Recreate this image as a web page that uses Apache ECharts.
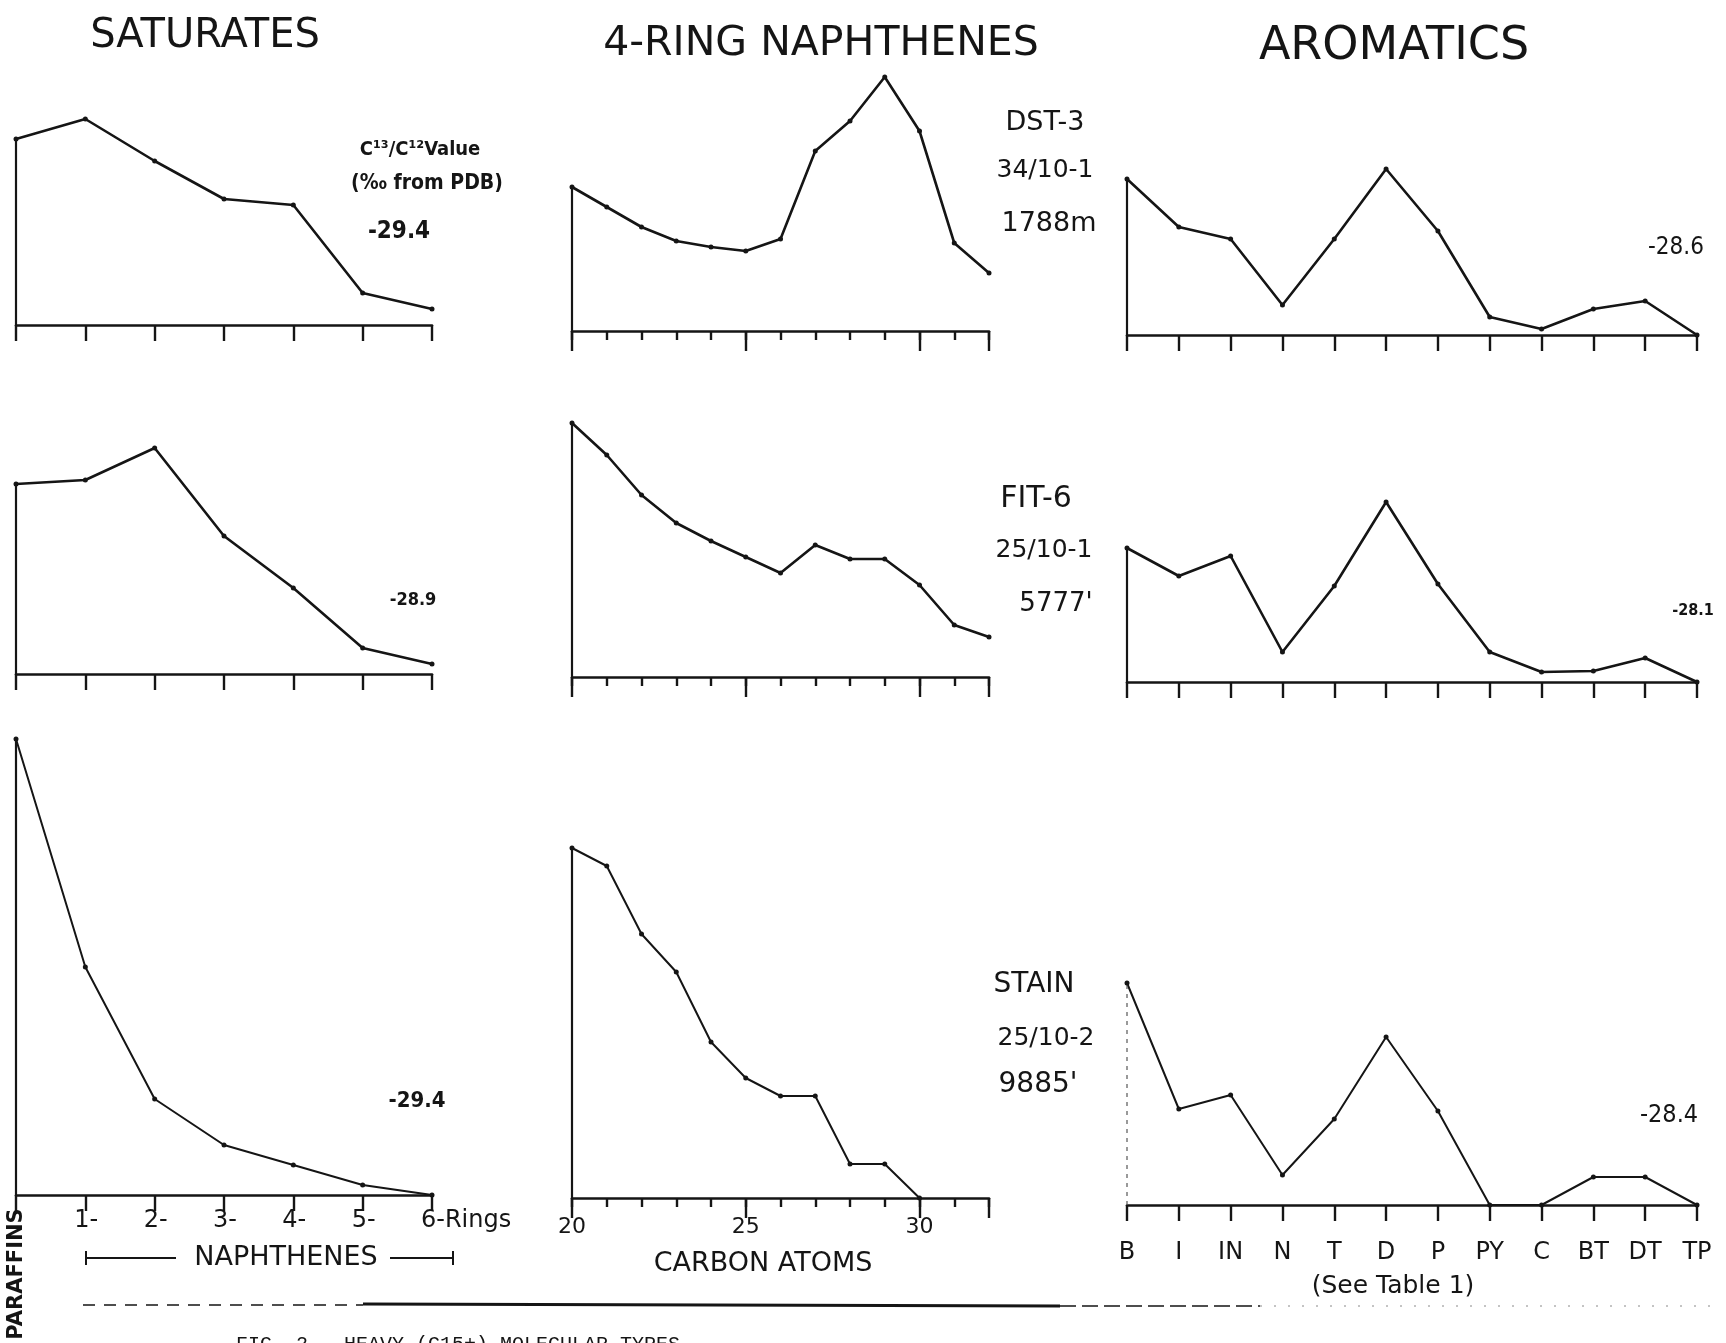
<!DOCTYPE html>
<html>
<head>
<meta charset="utf-8">
<script src="https://cdn.jsdelivr.net/npm/echarts@6/dist/echarts.min.js"></script>
<style>
  html, body { margin: 0; padding: 0; background: #fff; }
  #chart { width: 1726px; height: 1343px; }
</style>
</head>
<body>
<div id="chart"></div>
<script>
// categories on the three x axes
var satCats = ['PARAFFINS', '1-', '2-', '3-', '4-', '5-', '6-Rings'];
var napCats = ['20', '21', '22', '23', '24', '25', '26', '27', '28', '29', '30', '31', '32'];
var aroCats = ['B', 'I', 'IN', 'N', 'T', 'D', 'P', 'PY', 'C', 'BT', 'DT', 'TP'];

// relative amounts (arbitrary units)
// DST-3 34/10-1 1788m
var satDst = [93, 103, 82, 63, 60, 16, 8];
var napDst = [72, 62, 52, 45, 42, 40, 46, 90, 105, 127, 100, 44, 29];
var aroDst = [78, 54, 48, 15, 48, 83, 52, 9, 3, 13, 17, 0];
// FIT-6 25/10-1 5777'
var satFit = [95, 97, 113, 69, 43, 13, 5];
var napFit = [127, 111, 91, 77, 68, 60, 52, 66, 59, 59, 46, 26, 20];
var aroFit = [67, 53, 63, 15, 48, 90, 49, 15, 5, 5.5, 12, 0];
// STAIN 25/10-2 9885'
var satStain = [228, 114, 48, 25, 15, 5, 0];
var napStain = [175, 166, 132, 113, 78, 60, 51, 51, 17, 17, 0];
var aroStain = [111, 48, 55, 15, 43, 84, 47, 0, 0, 14, 14, 0];

// sample labels and C13/C12 values
var sampleLabels = [['DST-3', '34/10-1', '1788m'], ['FIT-6', '25/10-1', "5777'"], ['STAIN', '25/10-2', "9885'"]];
var satIso = ['-29.4', '-28.9', '-29.4'];
var aroIso = ['-28.6', '-28.1', '-28.4'];

var ink = '#151515';
var font = 'DejaVu Sans';
var K = 2; // px per unit

var colLeft = [16, 572, 1127];
var colWidth = [416, 417, 570];
var axisY = [[325, 331, 335], [674, 677, 682], [1195, 1198, 1205]];
var rowMax = [130, 130, 240];
var catsByCol = [satCats, napCats, aroCats];
var valsByRow = [[satDst, napDst, aroDst], [satFit, napFit, aroFit], [satStain, napStain, aroStain]];

var grid = [], xAxis = [], yAxis = [], series = [];

function majorNap(i) { return i % 5 === 0 || i === 12; }

for (var r = 0; r < 3; r++) {
  for (var c = 0; c < 3; c++) {
    var gi = grid.length;
    var last = r === 2;
    grid.push({
      left: colLeft[c], width: colWidth[c],
      top: axisY[r][c] - rowMax[r] * K, height: rowMax[r] * K,
      containLabel: false, outerBoundsMode: 'none'
    });
    var lbl = { show: false };
    if (last && c === 0) {
      lbl = {
        show: true, interval: 0, margin: 14,
        formatter: function (v, i) { return i === 0 ? '' : '{l|' + v + '}'; },
        rich: { l: { width: 22, align: 'left', fontSize: 24, fontFamily: font, color: ink } }
      };
    } else if (last && c === 2) {
      lbl = { show: true, interval: 0, margin: 36, fontSize: 24, fontFamily: font, color: ink };
    }
    var xi = xAxis.length;
    xAxis.push({
      type: 'category', gridIndex: gi, data: catsByCol[c], boundaryGap: false, position: 'bottom',
      axisLine: { lineStyle: { color: ink, width: 2.6 } },
      axisTick: { show: true, interval: 0, length: c === 1 ? 9 : 16, lineStyle: { color: ink, width: 2.4 } },
      axisLabel: lbl,
      splitLine: { show: false }
    });
    if (c === 1) {
      // longer ticks at 20, 25, 30
      xAxis.push({
        type: 'category', gridIndex: gi, data: napCats, boundaryGap: false, position: 'bottom', offset: 0,
        axisLine: { show: false },
        axisTick: { show: true, interval: majorNap, length: 20, lineStyle: { color: ink, width: 2.4 } },
        axisLabel: last ? {
          show: true, margin: 18, fontSize: 22, fontFamily: font, color: ink,
          interval: function (i) { return i % 5 === 0; }
        } : { show: false },
        splitLine: { show: false }
      });
    }
    yAxis.push({ type: 'value', gridIndex: gi, min: 0, max: rowMax[r], show: false });

    var vals = valsByRow[r][c];
    series.push({
      type: 'line', xAxisIndex: xi, yAxisIndex: gi, data: vals,
      symbol: 'circle', symbolSize: 5, showSymbol: true,
      lineStyle: { color: ink, width: last ? 2 : 2.6 },
      itemStyle: { color: ink }
    });
    // vertical stroke from the axis up to the first point
    series.push({
      type: 'line', xAxisIndex: xi, yAxisIndex: gi, data: [[0, 0], [0, vals[0]]],
      symbol: 'none',
      lineStyle: (last && c === 2) ? { color: '#555', width: 1.2, type: [4, 5] } : { color: ink, width: 2.2 }
    });
  }
}

function txt(s, x, y, size, o) {
  o = o || {};
  return {
    type: 'text', x: x, y: y, rotation: o.rot || 0,
    style: {
      text: s, fill: ink, fontSize: size, fontFamily: o.family || font,
      fontWeight: o.weight || 'normal', fontStyle: o.style || 'normal',
      textAlign: o.align || 'center', textVerticalAlign: o.valign || 'middle',
      align: o.align || 'center', verticalAlign: o.valign || 'middle'
    }
  };
}
function seg(x1, y1, x2, y2, w, dash, col) {
  return {
    type: 'line', shape: { x1: x1, y1: y1, x2: x2, y2: y2 },
    style: { stroke: col || ink, lineWidth: w, lineDash: dash || null }
  };
}
var cond = { weight: 'bold', family: 'DejaVu Sans Condensed' };

var graphic = [
  txt('SATURATES', 205, 37, 40),
  txt('4-RING NAPHTHENES', 821, 44, 41),
  txt('AROMATICS', 1394, 47, 46),

  txt('C¹³/C¹²Value', 420, 150, 20, cond),
  txt('(‰ from PDB)', 427, 184, 21, cond),

  txt(satIso[0], 399, 232, 24, cond),
  txt(satIso[1], 413, 600, 18, cond),
  txt(satIso[2], 417, 1101, 22, cond),
  txt(aroIso[0], 1676, 248, 24, { family: 'DejaVu Sans Condensed' }),
  txt(aroIso[1], 1693, 611, 16, cond),
  txt(aroIso[2], 1669, 1115, 25, { family: 'DejaVu Sans Condensed' }),

  txt(sampleLabels[0][0], 1045, 123, 27),
  txt(sampleLabels[0][1], 1045, 170, 25),
  txt(sampleLabels[0][2], 1049, 224, 27),
  txt(sampleLabels[1][0], 1036, 499, 30),
  txt(sampleLabels[1][1], 1044, 550, 25),
  txt(sampleLabels[1][2], 1056, 604, 26),
  txt(sampleLabels[2][0], 1034, 985, 28),
  txt(sampleLabels[2][1], 1046, 1038, 25),
  txt(sampleLabels[2][2], 1038, 1085, 28),

  // bottom axis titles
  txt(satCats[0], 17, 1274, 21, { rot: Math.PI / 2, weight: 'bold' }),
  txt('NAPHTHENES', 286, 1258, 27),
  seg(86, 1258, 176, 1258, 2),
  seg(86, 1251, 86, 1265, 2),
  seg(390, 1258, 453, 1258, 2),
  seg(453, 1251, 453, 1265, 2),
  txt('CARBON ATOMS', 763, 1264, 27),
  txt('(See Table 1)', 1393, 1286, 25),

  // rule above the caption
  seg(83, 1305, 363, 1305, 1.6, [12, 9]),
  seg(363, 1304, 1060, 1306, 3.2),
  seg(1060, 1306, 1260, 1306, 1.6, [16, 6]),
  seg(1260, 1306, 1720, 1306, 1, [2, 12], '#888'),

  txt('FIG. 2 - HEAVY (C15+) MOLECULAR TYPES', 236, 1335, 20, { align: 'left', valign: 'top', family: 'Liberation Mono' })
];

var chart = echarts.init(document.getElementById('chart'));
chart.setOption({
  backgroundColor: '#fff',
  animation: false,
  grid: grid,
  xAxis: xAxis,
  yAxis: yAxis,
  series: series,
  graphic: graphic
});
</script>
</body>
</html>
